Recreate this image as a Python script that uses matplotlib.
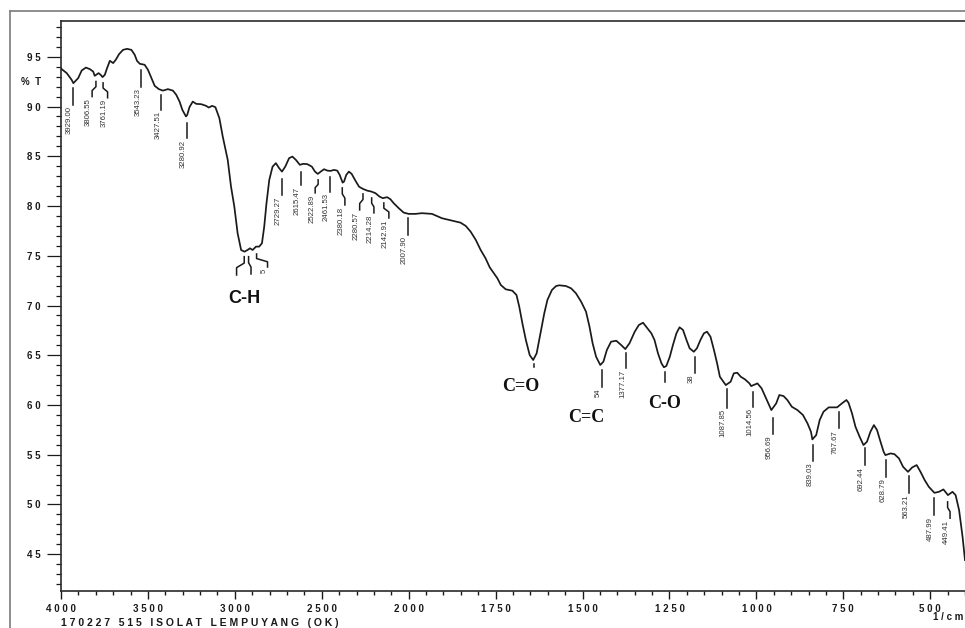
#!/usr/bin/env python3
# -*- coding: utf-8 -*-
"""FTIR spectrum, isolat lempuyang (Shimadzu style, split wavenumber axis)."""

import numpy as np
import matplotlib
matplotlib.use("Agg")
import matplotlib.pyplot as plt
import matplotlib.ticker as ticker
from matplotlib.lines import Line2D

# --- Data ---

WAVENUMBER = [
    3996, 3967, 3939, 3929, 3901, 3881, 3857, 3834, 3815, 3806, 3784, 3772,
    3761, 3748, 3735, 3719, 3700, 3685, 3666, 3643, 3620, 3595, 3576, 3563,
    3547, 3519, 3500, 3480, 3461, 3437, 3414, 3385, 3356, 3337, 3318, 3302,
    3281, 3274, 3261, 3242, 3222, 3194, 3165, 3150, 3131, 3112, 3089, 3070,
    3041, 3022, 3003, 2984, 2964, 2945, 2927, 2913, 2898, 2878, 2860, 2844,
    2831, 2818, 2802, 2783, 2764, 2745, 2729, 2710, 2688, 2669, 2649, 2626,
    2607, 2583, 2557, 2539, 2523, 2506, 2487, 2468, 2449, 2430, 2411, 2397,
    2380, 2372, 2359, 2344, 2328, 2309, 2286, 2263, 2239, 2214, 2191, 2168,
    2149, 2124, 2105, 2086, 2057, 2029, 2000,
    1981, 1962, 1933, 1904, 1875, 1851, 1836, 1822, 1807, 1793, 1779, 1767,
    1755, 1745, 1735, 1721, 1702, 1690, 1682, 1673, 1663, 1652, 1642, 1632,
    1623, 1610, 1601, 1588, 1576, 1567, 1548, 1533, 1519, 1504, 1490, 1480,
    1471, 1461, 1449, 1440, 1430, 1418, 1403, 1389, 1377, 1365, 1350, 1338,
    1326, 1317, 1302, 1293, 1283, 1273, 1266, 1259, 1249, 1240, 1230, 1221,
    1211, 1201, 1192, 1180, 1171, 1161, 1151, 1142, 1132, 1122, 1113, 1105,
    1095, 1088, 1074, 1065, 1055, 1045, 1033, 1020, 1015, 997, 985, 972,
    961, 957, 943, 934, 922, 911, 898, 882, 866, 853, 843, 839,
    828, 818, 807, 792, 778, 768, 754, 741, 735, 725, 715, 703,
    692, 682, 672, 662, 653, 643, 634, 629, 614, 603, 590, 578,
    564, 552, 539, 528, 516, 504, 488, 475, 462, 449, 436, 427,
    417, 407, 400,
]

TRANSMITTANCE = [
    93.76, 93.36, 92.69, 92.35, 92.86, 93.62, 93.92, 93.76, 93.52, 93.09, 93.36, 93.19,
    92.96, 93.19, 93.86, 94.60, 94.37, 94.70, 95.27, 95.70, 95.80, 95.70, 95.20, 94.60,
    94.30, 94.20, 93.70, 92.86, 92.08, 91.75, 91.60, 91.75, 91.60, 91.18, 90.50, 89.67,
    89.00, 89.16, 89.94, 90.50, 90.27, 90.24, 90.07, 89.90, 90.07, 89.94, 88.83, 87.02,
    84.64, 81.95, 79.94, 77.26, 75.58, 75.41, 75.58, 75.75, 75.58, 75.92, 75.92, 76.26,
    77.93, 80.28, 82.63, 83.96, 84.31, 83.80, 83.46, 83.96, 84.81, 84.97, 84.64, 84.14,
    84.24, 84.21, 83.96, 83.46, 83.23, 83.46, 83.70, 83.56, 83.53, 83.63, 83.56, 83.13,
    82.35, 82.46, 83.13, 83.46, 83.23, 82.63, 81.95, 81.72, 81.55, 81.45, 81.29, 80.95,
    80.79, 80.89, 80.68, 80.28, 79.78, 79.34, 79.21,
    79.21, 79.28, 79.21, 78.77, 78.53, 78.33, 78.00, 77.43, 76.59, 75.58, 74.75, 73.84,
    73.24, 72.74, 72.06, 71.63, 71.49, 71.06, 69.88, 68.21, 66.53, 65.02, 64.52, 65.19,
    66.86, 69.22, 70.56, 71.56, 71.96, 72.03, 71.96, 71.73, 71.23, 70.38, 69.38, 67.87,
    66.20, 64.85, 64.02, 64.35, 65.53, 66.36, 66.46, 66.03, 65.62, 66.20, 67.36, 68.04,
    68.27, 67.87, 67.20, 66.53, 65.19, 64.19, 63.79, 63.92, 64.85, 66.03, 67.20, 67.81,
    67.54, 66.53, 65.70, 65.35, 65.70, 66.53, 67.20, 67.37, 66.86, 65.52, 64.19, 62.84,
    62.34, 62.00, 62.34, 63.18, 63.24, 62.84, 62.58, 62.17, 61.90, 62.17, 61.67, 60.66,
    59.82, 59.49, 60.16, 61.00, 60.90, 60.50, 59.82, 59.49, 58.99, 58.15, 57.31, 56.54,
    56.97, 58.48, 59.32, 59.76, 59.76, 59.76, 60.16, 60.50, 60.22, 59.16, 57.81, 56.80,
    55.97, 56.30, 57.31, 57.98, 57.48, 56.30, 55.29, 54.96, 55.13, 55.06, 54.63, 53.78,
    53.28, 53.72, 53.96, 53.28, 52.45, 51.77, 51.17, 51.27, 51.51, 50.94, 51.27, 50.94,
    49.43, 46.75, 44.40,
]

# Peak labels: text, wavenumber at top / bottom of the leader, %T at top / bottom
PEAK_TEXT = ["3929.00", "3806.55", "3761.19", "3543.23", "3427.51", "3280.92",
             "2729.27", "2615.47", "2522.89", "2461.53", "2380.18", "2280.57",
             "2214.28", "2142.91", "2007.90", "", "", "5", "", "54", "1377.17",
             "", "38", "1087.85", "1014.56", "956.69", "839.03", "767.67",
             "692.44", "628.79", "563.21", "487.99", "449.41"]
PEAK_W_TOP = [3930, 3799, 3758, 3538, 3423, 3276, 2729, 2621, 2521, 2453, 2382,
              2263, 2213, 2143, 2006, 2946, 2921, 2875, 1640, 1444, 1374, 1264,
              1177, 1085, 1010, 953, 836, 763, 689, 626, 560, 489, 450]
PEAK_W_BOT = [3930, 3821, 3732, 3538, 3423, 3276, 2729, 2621, 2538, 2453, 2367,
              2282, 2200, 2114, 2006, 2990, 2907, 2812, 1640, 1444, 1374, 1264,
              1177, 1085, 1010, 953, 836, 763, 689, 626, 560, 489, 443]
PEAK_T_TOP = [91.88, 92.52, 92.38, 93.69, 91.18, 88.39, 82.73, 83.46, 82.63,
              82.93, 81.82, 81.22, 80.81, 80.31, 78.80, 74.91, 74.91, 75.18,
              64.10, 63.51, 65.22, 63.34, 64.85, 61.60, 61.33, 58.73, 55.97,
              59.32, 55.66, 54.46, 52.85, 50.63, 50.26]
PEAK_T_BOT = [90.17, 91.00, 90.88, 92.01, 89.67, 86.82, 81.12, 82.12, 81.32,
              81.45, 80.11, 79.61, 79.31, 78.80, 77.09, 73.07, 73.17, 73.87,
              63.80, 61.83, 63.71, 62.33, 63.18, 59.74, 59.82, 57.07, 54.39,
              57.65, 53.95, 52.78, 51.14, 48.92, 48.62]

# Functional group annotations
GROUP_TEXT = ["C-H", "C=O", "C=C", "C-O"]
GROUP_W = [2948, 1679, 1488, 1265]
GROUP_T = [70.7, 61.84, 58.7, 60.14]

X_MAJOR = [4000, 3500, 3000, 2500, 2000, 1750, 1500, 1250, 1000, 750, 500]
X_MINOR = list(range(3900, 2000, -100)) + list(range(1950, 399, -50))
Y_MAJOR = [45, 50, 55, 60, 65, 70, 75, 80, 85, 90, 95]
Y_MINOR = list(range(42, 99))

# --- Config ---

W_PX, H_PX = 965, 628
DPI = 100
INK = "#1a1a1a"
GRAY = "#7a7a7a"


def spaced(s):
    return " ".join(str(s))


# Split axis: 4000-2000 at half the scale of 2000-400
def fwd(w):
    w = np.asarray(w, dtype=float)
    return np.where(w >= 2000, w / 2.0, w - 1000.0)


def inv(t):
    t = np.asarray(t, dtype=float)
    return np.where(t >= 1000, 2.0 * t, t + 1000.0)


def main():
    fig = plt.figure(figsize=(W_PX / DPI, H_PX / DPI), dpi=DPI)
    ax = fig.add_axes([61 / W_PX, 1 - 591 / H_PX, 1 - 61 / W_PX, (591 - 21) / H_PX])

    ax.set_xscale("function", functions=(fwd, inv))
    ax.set_xlim(4000, 400)
    ax.set_ylim(41.3, 98.6)

    # --- Spectrum ---
    ax.plot(WAVENUMBER, TRANSMITTANCE, color=INK, linewidth=1.25,
            solid_joinstyle="round", zorder=3)

    # --- Peak leaders and labels ---
    for txt, wt, wb, tt, tb in zip(PEAK_TEXT, PEAK_W_TOP, PEAK_W_BOT,
                                   PEAK_T_TOP, PEAK_T_BOT):
        d = tt - tb
        xs = [wt, wt, wb, wb]
        ys = [tt, tt - 0.35 * d, tt - 0.6 * d, tb]
        ax.plot(xs, ys, color=INK, linewidth=1.1, zorder=2)
        if txt:
            ax.text(wb, tb - 0.15, txt, rotation=90, rotation_mode="anchor",
                    ha="right", va="bottom", fontsize=5.6,
                    family="Liberation Sans", color="#333333")

    # --- Functional groups ---
    for txt, w, t in zip(GROUP_TEXT, GROUP_W, GROUP_T):
        fam = "Liberation Sans" if txt == "C-H" else "Liberation Serif"
        ax.text(w, t, txt, ha="center", va="center", fontsize=13,
                fontweight="bold", family=fam, color="#111111")

    # --- Axes ---
    ax.xaxis.set_major_locator(ticker.FixedLocator(X_MAJOR))
    ax.xaxis.set_major_formatter(ticker.FixedFormatter([spaced(v) for v in X_MAJOR]))
    ax.xaxis.set_minor_locator(ticker.FixedLocator(X_MINOR))
    ax.xaxis.set_minor_formatter(ticker.NullFormatter())
    ax.yaxis.set_major_locator(ticker.FixedLocator(Y_MAJOR))
    ax.yaxis.set_major_formatter(ticker.FixedFormatter([spaced(v) for v in Y_MAJOR]))
    ax.yaxis.set_minor_locator(ticker.FixedLocator(Y_MINOR))
    ax.yaxis.set_minor_formatter(ticker.NullFormatter())

    ax.tick_params(axis="x", which="major", direction="out", length=6, width=1.0,
                   pad=3.5, labelsize=7, colors=INK)
    ax.tick_params(axis="x", which="minor", direction="out", length=3, width=1.0,
                   colors=INK)
    ax.tick_params(axis="y", which="major", direction="out", length=10, width=0.9,
                   pad=5, labelsize=7, colors=INK)
    ax.tick_params(axis="y", which="minor", direction="out", length=3.6, width=0.9,
                   colors=INK)
    for lab in ax.get_xticklabels() + ax.get_yticklabels():
        lab.set_fontweight("bold")
        lab.set_family("Liberation Sans")

    ax.spines["right"].set_visible(False)
    for side in ("left", "bottom", "top"):
        ax.spines[side].set_linewidth(1.2)
        ax.spines[side].set_color("#2a2a2a")

    # --- Figure texts ---
    fig.text(21 / W_PX, 1 - 81.7 / H_PX, "%  T", ha="left", va="center",
             fontsize=7, fontweight="bold", family="Liberation Sans", color=INK)
    fig.text(963 / W_PX, 1 - 617 / H_PX, "1 / c m", ha="right", va="center",
             fontsize=7, fontweight="bold", family="Liberation Sans", color=INK)
    fig.text(61 / W_PX, 1 - 623 / H_PX,
             "1 7 0 2 2 7   5 1 5   I S O L A T   L E M P U Y A N G   ( O K )",
             ha="left", va="center", fontsize=7.5, fontweight="bold",
             family="Liberation Sans", color=INK)

    # --- Outer frame ---
    fig.add_artist(Line2D([10 / W_PX, 10 / W_PX], [0, 1 - 11 / H_PX],
                          color=GRAY, linewidth=1.2))
    fig.add_artist(Line2D([10 / W_PX, 1], [1 - 11 / H_PX, 1 - 11 / H_PX],
                          color=GRAY, linewidth=1.2))

    fig.savefig("out.png", dpi=DPI)


if __name__ == "__main__":
    main()
